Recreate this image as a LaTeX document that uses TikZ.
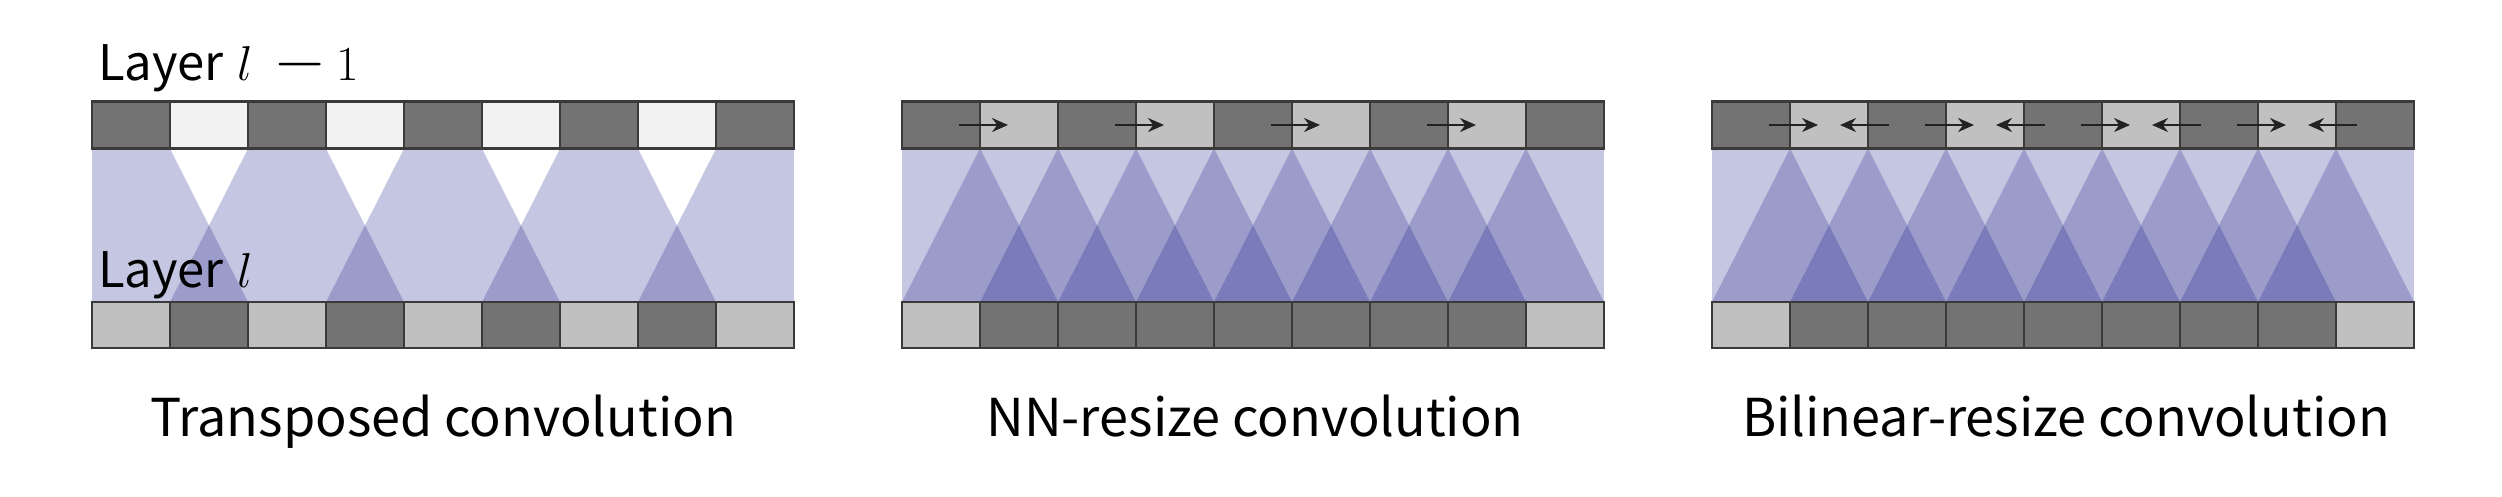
\RequirePackage{fix-cm}
\documentclass[tikz,border=0pt]{standalone}
\usepackage{fontspec}
\usepackage{graphicx}
\setmainfont{Noto Sans CJK KR}
\usetikzlibrary{arrows.meta,calc}
\definecolor{cdark}{HTML}{737373}
\definecolor{clight}{HTML}{C0C0C0}
\definecolor{cwhite}{HTML}{F2F2F2}
\definecolor{cedge}{HTML}{3A3A3A}
\definecolor{bL}{HTML}{C5C7E2}
\definecolor{bM}{HTML}{9C9CCB}
\definecolor{bD}{HTML}{7A7BB9}
\definecolor{carrow}{HTML}{222222}
\begin{document}
\begin{tikzpicture}[x=1pt,y=-1pt,
  cell/.style={draw=cedge,line width=2.4pt,minimum width=78pt,minimum height=47pt,inner sep=0pt,outer sep=0pt},
  bcell/.style={cell,minimum height=46pt},
  lbl/.style={anchor=base west,inner sep=0pt,font=\fontsize{49}{59}\selectfont},
  captxt/.style={anchor=base,inner sep=0pt,font=\fontsize{52.2}{64}\selectfont},
  arr/.style={draw=carrow,line width=2.2pt,-{Stealth[length=16pt,width=14pt]}}]
\useasboundingbox (0,0) rectangle (2502,496);
\def\w{78}
% ---------- Panel 1: transposed convolution ----------
\def\X{92}
\fill[bL] (\X,148.5) rectangle (\X+702,302);
\foreach \k in {0,...,3}{
  \pgfmathsetmacro{\a}{\X+(2*\k+1)*\w}
  \fill[white] (\a,148.5) -- (\a+\w,148.5) -- (\a+\w/2,225.25) -- cycle;
  \fill[bM] (\a,302) -- (\a+\w,302) -- (\a+\w/2,225.25) -- cycle;
}
\foreach \i in {0,...,8}{
  \pgfmathsetmacro{\cx}{\X+(\i+0.5)*\w}
  \pgfmathtruncatemacro{\odd}{mod(\i,2)}
  \ifnum\odd=1
    \node[cell,fill=cwhite] (ta-\i) at (\cx,125) {};
    \node[bcell,fill=cdark] (ba-\i) at (\cx,325) {};
  \else
    \node[cell,fill=cdark] (ta-\i) at (\cx,125) {};
    \node[bcell,fill=clight] (ba-\i) at (\cx,325) {};
  \fi
}
% ---------- Panels 2 and 3 ----------
\foreach \p/\X in {b/902,c/1712}{
  \fill[bL] (\X,148.5) rectangle (\X+702,302);
  \foreach \k in {1,...,8}{
    \fill[bM] (\X+\k*\w,148.5) -- (\X+\k*\w+\w,302) -- (\X+\k*\w-\w,302) -- cycle;
  }
  \foreach \k in {1,...,7}{
    \fill[bD] (\X+\k*\w,302) -- (\X+\k*\w+\w,302) -- (\X+\k*\w+\w/2,225.25) -- cycle;
  }
  \foreach \i in {0,...,8}{
    \pgfmathsetmacro{\cx}{\X+(\i+0.5)*\w}
    \pgfmathtruncatemacro{\odd}{mod(\i,2)}
    \ifnum\odd=1
      \node[cell,fill=clight] (t\p-\i) at (\cx,125) {};
    \else
      \node[cell,fill=cdark] (t\p-\i) at (\cx,125) {};
    \fi
    \ifnum\i=0
      \node[bcell,fill=clight] (b\p-\i) at (\cx,325) {};
    \else\ifnum\i=8
      \node[bcell,fill=clight] (b\p-\i) at (\cx,325) {};
    \else
      \node[bcell,fill=cdark] (b\p-\i) at (\cx,325) {};
    \fi\fi
  }
}
% arrows
\foreach \j/\k/\n in {0/1/2,2/3/4,4/5/6,6/7/8}{
  \coordinate (sb-\k) at ($(tb-\j.center)+(18,0)$);
  \coordinate (eb-\k) at ($(tb-\k.center)+(-11,0)$);
  \draw[arr] (sb-\k) -- (eb-\k);
  \coordinate (sc-\k) at ($(tc-\j.center)+(18,0)$);
  \coordinate (ec-\k) at ($(tc-\k.center)+(-11,0)$);
  \draw[arr] (sc-\k) -- (ec-\k);
  \coordinate (rc-\k) at ($(tc-\n.center)+(-18,0)$);
  \coordinate (fc-\k) at ($(tc-\k.center)+(11,0)$);
  \draw[arr] (rc-\k) -- (fc-\k);
}
% labels
\node[lbl] (l1) at (98,80) {Layer\hspace{14pt}$l$\hspace{20pt}\scalebox{1.4}[1.3]{$-$}\hspace{10pt}$1$};
\node[lbl] (l2) at (98,287) {Layer\hspace{14pt}$l$};
\node[captxt] (c1) at (443,436) {Transposed convolution};
\node[captxt] (c2) at (1255,436) {NN-resize convolution};
\node[captxt] (c3) at (2066,436) {Bilinear-resize convolution};
\end{tikzpicture}
\end{document}
